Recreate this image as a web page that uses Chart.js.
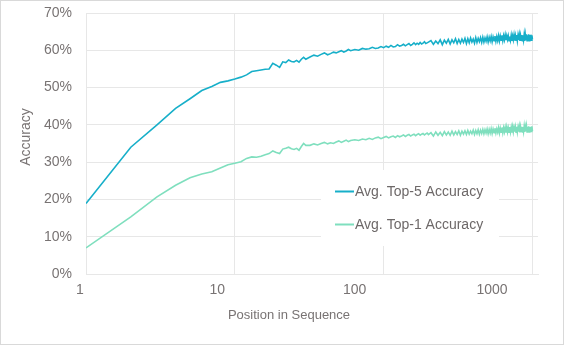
<!DOCTYPE html>
<html>
<head>
<meta charset="UTF-8">
<title>Accuracy by Position in Sequence</title>
<script src="https://cdn.jsdelivr.net/npm/chart.js@4"></script>
<style>
  * { margin: 0; padding: 0; box-sizing: border-box; }
  body { background: #fff; width: 564px; height: 345px; overflow: hidden; }
  canvas { display: block; }
</style>
</head>
<body>
<canvas id="chart" width="564" height="345"></canvas>
<script>
// positions (log x axis)
const positions = [
  1, 2, 3, 4, 5, 6, 7, 8, 9, 10, 11, 12, 13, 14, 15, 16, 17, 18, 19, 20,
  21, 22, 23, 24, 25, 26, 27, 28, 29, 30,
  32, 34, 36, 38, 40, 42, 44, 46, 48, 50, 52, 54, 56, 58, 60,
  64, 68, 72, 76, 80, 84, 88, 92, 96, 100, 104, 108, 112, 116, 120, 124, 128, 132, 136, 140,
  144, 148, 152, 156, 160, 164, 168, 172, 176, 180, 184, 188, 192, 196, 200,
  208, 216, 224, 232, 240, 248, 256, 264, 272, 280,
  288, 296, 304, 312, 320, 328, 336, 344, 352, 360,
  368, 376, 384, 392, 400, 408, 416, 424, 432, 440,
  448, 456, 464, 472, 480, 488, 496, 504, 512, 520,
  528, 536, 544, 552, 560, 568, 576, 584, 592, 600,
  608, 616, 624, 632, 640, 648, 656, 664, 672, 680,
  688, 696, 704, 712, 720, 728, 736, 744, 752, 760,
  768, 776, 784, 792, 800, 808, 816, 824, 832, 840,
  848, 856, 864, 872, 880, 888, 896, 904, 912, 920,
  928, 936, 944, 952, 960, 968, 976, 984, 992, 1000
];

// Avg. Top-5 Accuracy (%)
const top5 = [
  18.9, 34.0, 40.0, 44.4, 47.0, 49.2, 50.3, 51.4, 51.8, 52.3, 52.8, 53.4, 54.3, 54.5, 54.7, 54.9, 55.0, 56.5, 56.0, 55.4,
  56.9, 56.7, 57.4, 57.0, 56.9, 57.3, 56.8, 57.6, 58.1, 57.6,
  58.2, 58.7, 58.4, 58.9, 59.3, 58.8, 59.1, 59.5, 59.3, 59.6, 59.9, 59.5, 59.8, 60.2, 59.9,
  60.2, 60.0, 60.5, 60.3, 60.4, 60.8, 60.5, 60.6, 61.0, 60.7, 61.1, 60.8, 61.3, 60.9, 61.0, 61.5, 61.1, 61.3, 61.6, 61.2,
  61.5, 61.8, 61.3, 61.6, 62.0, 61.5, 61.9, 61.6, 62.1, 61.7, 61.9, 62.3, 61.8, 62.0, 62.2,
  62.6, 61.6, 62.5, 61.8, 62.8, 61.5, 62.7, 61.9, 62.9, 61.7,
  62.8, 62.0, 63.1, 61.8, 62.9, 61.9, 63.0, 62.1, 63.2, 61.8,
  63.1, 62.0, 63.3, 62.2, 63.0, 61.9, 63.4, 62.1, 63.2, 62.3,
  63.4, 62.1, 63.5, 62.2, 63.3, 62.4, 63.6, 62.2, 63.5, 62.5,
  63.7, 62.3, 63.6, 62.6, 63.8, 62.4, 63.7, 62.6, 63.9, 62.5,
  63.8, 62.7, 64.0, 62.6, 63.9, 62.8, 64.1, 62.7, 63.9, 62.9,
  63.9, 62.6, 63.7, 62.7, 64.0, 62.5, 63.8, 62.8, 64.1, 62.6,
  63.9, 62.7, 64.1, 62.6, 64.0, 62.8, 64.1, 62.5, 63.9, 62.7,
  64.1, 62.6, 64.0, 62.8, 64.2, 62.5, 64.1, 62.7, 64.3, 62.6,
  64.0, 62.8, 64.3, 62.6, 64.1, 62.9, 64.2, 62.7, 64.0, 62.9
];

// Avg. Top-1 Accuracy (%)
const top1 = [
  7.0, 15.3, 20.7, 23.8, 25.8, 26.8, 27.4, 28.4, 29.3, 29.7, 30.1, 31.0, 31.4, 31.3, 31.6, 32.0, 32.3, 33.0, 32.6, 32.3,
  33.5, 33.7, 34.0, 33.6, 33.4, 33.7, 33.2, 34.2, 35.0, 34.5,
  34.5, 34.9, 34.6, 35.0, 35.3, 34.9, 35.2, 35.0, 35.4, 35.7, 35.3, 35.6, 35.9, 35.5, 35.8,
  36.0, 35.8, 36.2, 36.0, 36.4, 36.1, 36.5, 36.7, 36.3, 36.6, 36.9, 36.5, 36.8, 37.0, 36.6, 37.1, 36.8, 37.0, 37.3, 36.9,
  37.2, 37.4, 37.0, 37.3, 37.5, 37.1, 37.4, 37.6, 37.2, 37.5, 37.7, 37.3, 37.6, 37.8, 37.4,
  37.9, 37.0, 38.1, 37.2, 38.0, 37.1, 38.2, 37.3, 38.1, 37.2,
  38.3, 37.3, 38.2, 37.4, 38.4, 37.2, 38.3, 37.5, 38.4, 37.4,
  38.5, 37.5, 38.3, 37.6, 38.6, 37.4, 38.5, 37.6, 38.7, 37.5,
  38.6, 37.7, 38.8, 37.6, 38.7, 37.8, 38.9, 37.6, 38.8, 37.8,
  39.0, 37.7, 38.9, 37.9, 39.1, 37.8, 38.9, 38.0, 39.2, 37.8,
  39.1, 38.0, 39.3, 37.9, 39.2, 38.1, 39.3, 37.9, 39.4, 38.1,
  39.2, 38.0, 39.4, 38.1, 39.3, 37.9, 39.4, 38.1, 39.3, 38.2,
  39.4, 38.0, 39.5, 38.1, 39.3, 38.2, 39.5, 38.0, 39.4, 38.2,
  39.5, 38.1, 39.4, 38.2, 39.6, 38.1, 39.4, 38.3, 39.6, 38.1,
  39.5, 38.2, 39.6, 38.1, 39.4, 38.3, 39.5, 38.2, 39.6, 38.3
];

const seriesNames = ['Avg. Top-5 Accuracy', 'Avg. Top-1 Accuracy'];
const seriesColors = ['#17afc9', '#7fdfbe'];
const xTickValues = [1, 10, 100, 1000];
const yTickMax = 70;
const xTitle = 'Position in Sequence';
const yTitle = 'Accuracy';

const TEXT = '#787373';
const GRID = '#e7e7e7';
const FONT = "'Liberation Sans', Arial, sans-serif";

const toPoints = (vals) => positions.map((p, i) => ({ x: p, y: vals[i] }));

const fixedTicks = (scale) => {
  scale.ticks = xTickValues.map((v) => ({ value: v }));
};

// legend box drawn inside the plot area, over the gridlines
const insideLegend = {
  id: 'insideLegend',
  beforeDatasetsDraw(chart) {
    const ctx = chart.ctx;
    ctx.save();
    ctx.fillStyle = '#fff';
    ctx.fillRect(321, 170, 178, 76);
    ctx.font = '14px ' + FONT;
    ctx.textBaseline = 'middle';
    chart.data.datasets.forEach((ds, i) => {
      const y = 191.5 + i * 33;
      ctx.strokeStyle = ds.borderColor;
      ctx.lineWidth = 2;
      ctx.beginPath();
      ctx.moveTo(335, y);
      ctx.lineTo(354, y);
      ctx.stroke();
      ctx.fillStyle = '#6d6868';
      ctx.fillText(ds.label, 355, y + 0.5);
    });
    ctx.restore();
  }
};

// axis titles + outer frame
const decorations = {
  id: 'decorations',
  afterDraw(chart) {
    const ctx = chart.ctx;
    ctx.save();
    ctx.fillStyle = TEXT;
    ctx.textAlign = 'center';
    ctx.textBaseline = 'middle';
    ctx.font = '13px ' + FONT;
    ctx.fillText(xTitle, 289, 315);
    ctx.translate(26, 137);
    ctx.rotate(-Math.PI / 2);
    ctx.font = '14px ' + FONT;
    ctx.fillText(yTitle, 0, 0);
    ctx.restore();

    ctx.save();
    ctx.strokeStyle = '#d9d9d9';
    ctx.lineWidth = 1;
    ctx.strokeRect(0.5, 0.5, chart.width - 1, chart.height - 1);
    ctx.restore();
  }
};

new Chart(document.getElementById('chart').getContext('2d'), {
  type: 'line',
  data: {
    datasets: [
      {
        label: seriesNames[0],
        data: toPoints(top5),
        borderColor: seriesColors[0],
        borderWidth: 1.6,
        pointRadius: 0,
        tension: 0,
        xAxisID: 'x',
        yAxisID: 'y'
      },
      {
        label: seriesNames[1],
        data: toPoints(top1),
        borderColor: seriesColors[1],
        borderWidth: 1.6,
        pointRadius: 0,
        tension: 0,
        xAxisID: 'x',
        yAxisID: 'y'
      }
    ]
  },
  options: {
    responsive: false,
    animation: false,
    events: [],
    layout: { padding: { left: 0, right: 26, top: 13, bottom: 0 } },
    plugins: {
      legend: { display: false },
      tooltip: { enabled: false }
    },
    scales: {
      x: {
        type: 'logarithmic',
        position: 'bottom',
        min: 1,
        max: 1090,
        afterBuildTicks: fixedTicks,
        afterFit: (scale) => {
          scale.height = 0;
          scale.paddingLeft = 0;
          scale.paddingRight = 0;
        },
        grid: { color: GRID, lineWidth: 1, drawTicks: false },
        border: { color: GRID },
        ticks: { display: false }
      },
      // label axis: the reference prints its x labels on a slightly narrower spacing
      xLabels: {
        type: 'logarithmic',
        position: 'bottom',
        min: 1.106,
        max: 2163,
        afterBuildTicks: fixedTicks,
        afterFit: (scale) => {
          scale.height = 71;
          scale.paddingLeft = 0;
          scale.paddingRight = 0;
        },
        grid: { display: false, drawTicks: false },
        border: { display: false },
        ticks: {
          color: TEXT,
          font: { family: FONT, size: 14 },
          padding: 8,
          maxRotation: 0,
          autoSkip: false,
          callback: (v) => String(v)
        }
      },
      y: {
        min: 0,
        max: yTickMax,
        afterFit: (scale) => {
          scale.width = 86;
          scale.paddingTop = 0;
          scale.paddingBottom = 0;
        },
        grid: { color: GRID, lineWidth: 1, drawTicks: false },
        border: { color: GRID },
        ticks: {
          stepSize: 10,
          color: TEXT,
          font: { family: FONT, size: 14 },
          padding: 14,
          callback: (v) => v + '%'
        }
      }
    }
  },
  plugins: [insideLegend, decorations]
});
</script>
</body>
</html>
